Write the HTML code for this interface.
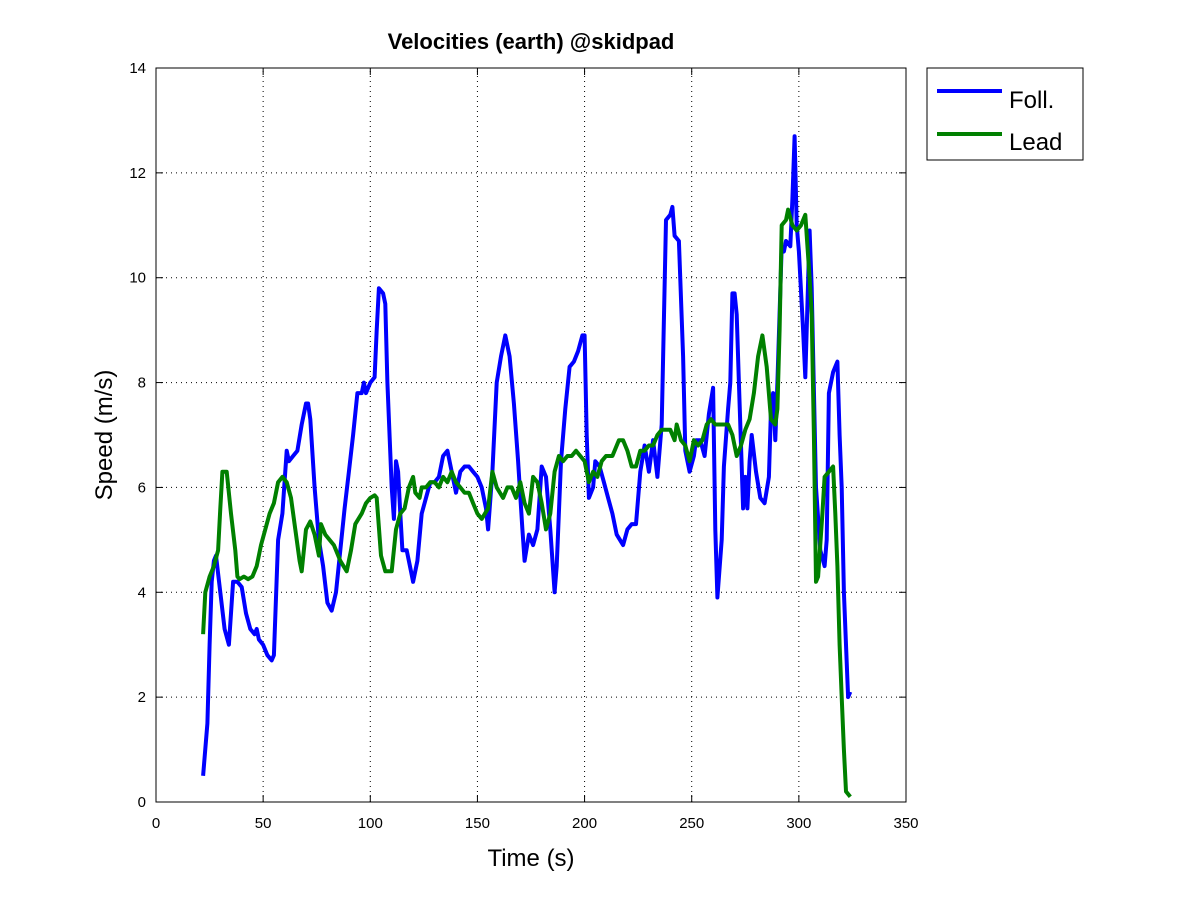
<!DOCTYPE html>
<html><head><meta charset="utf-8"><style>body{margin:0;background:#fff}svg{display:block;font-family:"Liberation Sans",sans-serif}</style></head>
<body>
<svg id="chart" width="1200" height="900" xmlns="http://www.w3.org/2000/svg">
<rect width="1200" height="900" fill="#fff"/>
<g id="grid"></g>
<g id="series"></g>
<rect x="156" y="68" width="750" height="734" fill="none" stroke="#000" stroke-width="1"/>
<g id="ticks" font-size="15"></g>
<text x="531" y="49" text-anchor="middle" font-size="22" font-weight="bold">Velocities (earth) @skidpad</text>
<text x="531" y="866" text-anchor="middle" font-size="24">Time (s)</text>
<text transform="translate(112,435) rotate(-90)" text-anchor="middle" font-size="24">Speed (m/s)</text>
<g>
<rect x="927" y="68" width="156" height="92" fill="#fff" stroke="#000"/>
<line x1="937" y1="91" x2="1002" y2="91" stroke="#0000ff" stroke-width="4"/>
<text x="1009" y="108" font-size="24">Foll.</text>
<line x1="937" y1="134" x2="1002" y2="134" stroke="#008000" stroke-width="4"/>
<text x="1009" y="150" font-size="24">Lead</text>
</g>
</svg>
<script>
const xTicks=[0,50,100,150,200,250,300,350];
const yTicks=[0,2,4,6,8,10,12,14];
const follT=[22,24,25,26,27,28,30,32,34,36,38,40,42,44,46,47,48,50,52,54,55,57,59,61,62,64,66,68,70,71,72,74,76,78,80,82,84,86,88,90,92,94,96,97,98,100,102,103,104,106,107,108,110,111,112,113,114,115,117,119,120,122,124,126,128,130,132,134,136,138,140,142,144,146,148,150,152,154,155,157,159,161,163,165,167,169,171,172,174,176,178,180,182,184,186,187,189,191,193,195,197,199,200,201,202,204,205,207,209,211,213,215,218,220,222,224,226,228,230,232,234,236,238,240,241,242,244,246,247,249,251,252,254,256,258,260,261,262,264,265,267,268,269,270,271,272,273,274,275,276,277,278,280,282,284,286,287,288,289,290,292,293,294,296,297,298,299,300,302,303,305,306,308,310,312,313,314,316,318,319,320,321,323,324];
const follV=[0.5,1.5,3,4.2,4.6,4.7,4,3.3,3,4.2,4.2,4.1,3.6,3.3,3.2,3.3,3.1,3,2.8,2.7,2.8,5,5.5,6.7,6.5,6.6,6.7,7.2,7.6,7.6,7.3,6,5,4.5,3.8,3.65,4,4.8,5.6,6.3,7,7.8,7.8,8,7.8,8,8.1,9,9.8,9.7,9.5,8,6,5.4,6.5,6.3,5.5,4.8,4.8,4.4,4.2,4.6,5.5,5.8,6.1,6.1,6.2,6.6,6.7,6.3,5.9,6.3,6.4,6.4,6.3,6.2,6,5.6,5.2,6.3,8,8.5,8.9,8.5,7.6,6.5,5.2,4.6,5.1,4.9,5.2,6.4,6.2,5.2,4,4.5,6.5,7.5,8.3,8.4,8.6,8.9,8.9,7,5.8,6,6.5,6.4,6.1,5.8,5.5,5.1,4.9,5.2,5.3,5.3,6.3,6.8,6.3,6.9,6.2,7.2,11.1,11.2,11.35,10.8,10.7,8.5,6.7,6.3,6.6,6.9,6.9,6.6,7.4,7.9,5.2,3.9,5,6.4,7.5,8,9.7,9.7,9.3,8,6.8,5.6,6.2,5.6,6.5,7,6.3,5.8,5.7,6.2,7.5,7.8,6.9,8,10.6,10.5,10.7,10.6,11.5,12.7,11,10.5,9,8.1,10.9,9.8,6,4.8,4.5,5,7.8,8.2,8.4,7,6,4,2,2.1];
const leadT=[22,23,25,27,29,30,31,33,35,37,38,39,41,43,45,47,49,51,53,55,57,59,61,63,65,67,68,70,72,74,76,77,79,81,83,86,89,91,93,96,98,100,102,103,105,107,110,112,114,116,118,120,121,123,124,126,128,130,132,134,136,138,140,142,144,146,148,150,152,155,157,159,162,164,166,168,170,172,174,176,178,180,182,184,186,188,190,192,194,196,198,200,202,204,206,208,210,213,216,218,220,222,224,226,228,230,232,234,236,238,240,242,243,245,247,249,251,253,255,257,259,261,263,265,267,269,271,273,275,277,279,281,283,285,287,289,290,291,292,294,295,297,299,301,303,305,306,307,308,309,311,312,314,316,317,318,319,320,321,322,324];
const leadV=[3.2,4,4.3,4.5,4.8,5.6,6.3,6.3,5.5,4.8,4.3,4.25,4.3,4.25,4.3,4.5,4.9,5.2,5.5,5.7,6.1,6.2,6.1,5.8,5.2,4.6,4.4,5.2,5.35,5.1,4.7,5.3,5.1,5,4.9,4.6,4.4,4.8,5.3,5.5,5.7,5.8,5.85,5.8,4.7,4.4,4.4,5.2,5.5,5.6,6,6.2,5.9,5.8,6,6,6.1,6.1,6,6.2,6.1,6.3,6.1,6,5.9,5.9,5.7,5.5,5.4,5.6,6.3,6,5.8,6,6,5.8,6.1,5.7,5.5,6.2,6.1,5.7,5.2,5.5,6.3,6.6,6.5,6.6,6.6,6.7,6.6,6.5,6.1,6.3,6.2,6.5,6.6,6.6,6.9,6.9,6.7,6.4,6.4,6.7,6.7,6.8,6.8,7,7.1,7.1,7.1,6.9,7.2,6.9,6.8,6.5,6.9,6.8,6.9,7.2,7.3,7.2,7.2,7.2,7.2,7,6.6,6.8,7.1,7.3,7.8,8.5,8.9,8.3,7.3,7.2,7.5,9,11,11.1,11.3,11,10.9,11,11.2,10,9.3,7,4.2,4.3,5.5,6.2,6.3,6.4,5.5,4.5,3,2,1,0.2,0.1];
const X0=156,X1=906,Y0=802,Y1=68;
const xs=v=>X0+(v-0)/(350-0)*(X1-X0);
const ys=v=>Y0-(v-0)/(14-0)*(Y0-Y1);
const NS='http://www.w3.org/2000/svg';
const grid=document.getElementById('grid'),ticks=document.getElementById('ticks'),series=document.getElementById('series');
function mk(tag,attrs,parent){const e=document.createElementNS(NS,tag);for(const k in attrs)e.setAttribute(k,attrs[k]);parent.appendChild(e);return e;}
xTicks.forEach(t=>{const x=xs(t);
 if(t>0&&t<350){const g=mk('line',{x1:x,y1:Y0,x2:x,y2:Y1,stroke:'#000','stroke-dasharray':'1,4'},grid);
 
 }
 mk('line',{x1:x,y1:Y0,x2:x,y2:Y0-7,stroke:'#000'},ticks);mk('line',{x1:x,y1:Y1,x2:x,y2:Y1+7,stroke:'#000'},ticks);
 const l=mk('text',{x:x,y:Y0+26,'text-anchor':'middle'},ticks);l.textContent=t;
 
 });
yTicks.forEach(t=>{const y=ys(t);
 if(t>0&&t<14){const g=mk('line',{x1:X0,y1:y,x2:X1,y2:y,stroke:'#000','stroke-dasharray':'1,4'},grid);
 
 }
 mk('line',{x1:X0,y1:y,x2:X0+7,y2:y,stroke:'#000'},ticks);mk('line',{x1:X1,y1:y,x2:X1-7,y2:y,stroke:'#000'},ticks);
 const l=mk('text',{x:X0-10,y:y+5,'text-anchor':'end'},ticks);l.textContent=t;
 
 });
function line(T,V,color,name){const d=T.map((t,i)=>(i?'L':'M')+xs(t).toFixed(1)+','+ys(V[i]).toFixed(1)).join('');
 const p=mk('path',{d:d,fill:'none',stroke:color,'stroke-width':4,'stroke-linejoin':'round'},series);
 
 }
line(follT,follV,'#0000ff','foll-series-line');
line(leadT,leadV,'#008000','lead-series-line');
</script>
</body></html>
